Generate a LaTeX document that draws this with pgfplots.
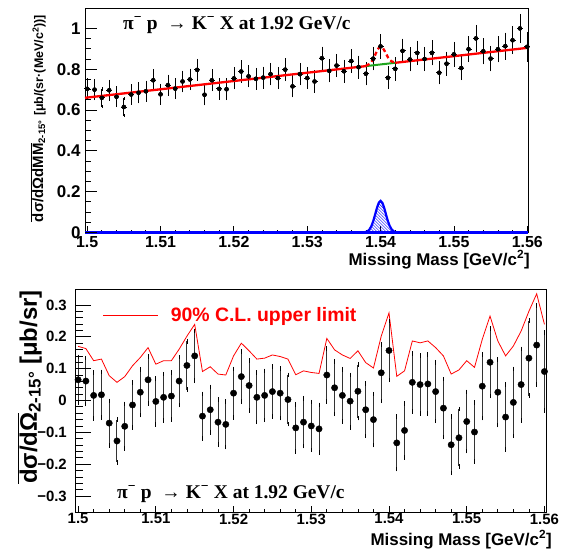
\documentclass[border=0pt]{standalone}
\usepackage{fontspec}
\setmainfont{Liberation Sans}
\newfontfamily\serifbf{Liberation Serif}
\usepackage{pgfplots}
\usepackage{pgfplotstable}
\pgfplotsset{compat=1.18}
\usetikzlibrary{patterns}
\definecolor{fitgreen}{RGB}{30,165,30}

\pgfplotstableread{
x y e
1.500 0.704 0.043
1.501 0.700 0.043
1.502 0.660 0.043
1.503 0.697 0.043
1.504 0.665 0.043
1.505 0.615 0.042
1.506 0.676 0.043
1.507 0.685 0.044
1.508 0.692 0.044
1.509 0.746 0.045
1.510 0.677 0.043
1.511 0.722 0.044
1.512 0.705 0.044
1.513 0.740 0.045
1.514 0.750 0.045
1.515 0.797 0.046
1.516 0.675 0.044
1.517 0.746 0.045
1.518 0.704 0.045
1.519 0.702 0.045
1.520 0.755 0.046
1.521 0.789 0.047
1.522 0.765 0.046
1.523 0.753 0.046
1.524 0.759 0.046
1.525 0.776 0.047
1.526 0.757 0.047
1.527 0.798 0.048
1.528 0.716 0.046
1.529 0.776 0.047
1.530 0.757 0.047
1.531 0.740 0.047
1.532 0.854 0.049
1.533 0.792 0.048
1.534 0.818 0.049
1.535 0.790 0.048
1.536 0.840 0.050
1.537 0.810 0.049
1.538 0.778 0.049
1.539 0.852 0.050
1.540 0.912 0.052
1.541 0.758 0.048
1.542 0.802 0.050
1.543 0.890 0.052
1.544 0.848 0.051
1.545 0.880 0.052
1.546 0.850 0.052
1.547 0.880 0.053
1.548 0.783 0.050
1.549 0.827 0.052
1.550 0.873 0.053
1.551 0.806 0.052
1.552 0.898 0.055
1.553 0.951 0.058
1.554 0.888 0.056
1.555 0.852 0.055
1.556 0.898 0.057
1.557 0.913 0.058
1.558 0.942 0.060
1.559 1.000 0.064
1.560 0.910 0.065
}\topdata

\pgfplotstableread{
x y e u
1.500 0.065 0.072 0.170
1.501 0.061 0.072 0.163
1.502 0.016 0.072 0.125
1.503 0.018 0.072 0.130
1.504 -0.071 0.070 0.078
1.505 -0.127 0.067 0.057
1.506 -0.081 0.070 0.075
1.507 -0.014 0.071 0.109
1.508 0.026 0.072 0.135
1.509 0.065 0.074 0.166
1.510 -0.003 0.072 0.114
1.511 0.010 0.073 0.125
1.512 0.014 0.073 0.125
1.513 0.061 0.075 0.161
1.514 0.110 0.076 0.202
1.515 0.140 0.078 0.239
1.516 -0.049 0.070 0.091
1.517 -0.029 0.072 0.106
1.518 -0.068 0.071 0.083
1.519 -0.075 0.071 0.080
1.520 0.023 0.076 0.140
1.521 0.075 0.079 0.180
1.522 0.047 0.078 0.156
1.523 0.010 0.077 0.130
1.524 0.016 0.077 0.133
1.525 0.028 0.078 0.143
1.526 0.023 0.078 0.138
1.527 0.003 0.077 0.130
1.528 -0.086 0.074 0.081
1.529 -0.068 0.075 0.093
1.530 -0.080 0.075 0.088
1.531 -0.089 0.075 0.085
1.532 0.080 0.083 0.195
1.533 0.040 0.082 0.159
1.534 0.016 0.082 0.143
1.535 -0.002 0.082 0.132
1.536 0.029 0.084 0.156
1.537 -0.029 0.082 0.119
1.538 -0.060 0.080 0.102
1.539 0.087 0.088 0.202
1.540 0.157 0.092 0.275
1.541 -0.133 0.082 0.076
1.542 -0.094 0.085 0.093
1.543 0.057 0.091 0.187
1.544 0.050 0.091 0.181
1.545 0.052 0.092 0.187
1.546 0.028 0.092 0.166
1.547 -0.024 0.091 0.140
1.548 -0.139 0.088 0.083
1.549 -0.117 0.090 0.096
1.550 -0.066 0.093 0.125
1.551 -0.099 0.093 0.104
1.552 0.045 0.100 0.192
1.553 0.120 0.106 0.265
1.554 0.026 0.103 0.187
1.555 -0.052 0.102 0.140
1.556 -0.006 0.105 0.171
1.557 0.050 0.112 0.218
1.558 0.133 0.118 0.280
1.559 0.174 0.124 0.335
1.560 0.091 0.122 0.239
}\botdata

\begin{document}
\begin{tikzpicture}
\useasboundingbox (0,0) rectangle (567bp,-554bp);
% ================= TOP PANEL =================
\begin{axis}[
  at={(85bp,-232.5bp)}, anchor=south west,
  width=443bp, height=224.5bp, scale only axis,
  xmin=1.4997, xmax=1.5601, ymin=0, ymax=1.1,
  clip=false,
  tick align=inside, tick pos=left,
  axis line style={black, line width=0.9pt},
  tick style={black, line width=0.8pt},
  major tick length=6.5bp, minor tick length=3bp,
  xtick={1.5,1.51,1.52,1.53,1.54,1.55,1.56},
  xticklabels={1.5,1.51,1.52,1.53,1.54,1.55,1.56},
  minor x tick num=4,
  ytick=\empty,
  /pgf/number format/assume math mode=true,
  xticklabel style={font=\bfseries\fontsize{16}{16}\selectfont, inner sep=0pt, anchor=north, yshift=-3.5bp},
  xlabel={Missing Mass [GeV/c\textsuperscript{2}]},
  xlabel style={at={(axis description cs:1,0)}, anchor=base east, xshift=2bp, yshift=-32.5bp, font=\bfseries\fontsize{17}{17}\selectfont, inner sep=0pt},
  ylabel={$\overline{\hbox{dσ/dΩdMM}}_{\hbox{\fontsize{9.5}{10}\selectfont 2-15°}}$ {\fontsize{12.5}{13}\selectfont [μb/(sr·(MeV/c\textsuperscript{2}))]}},
  ylabel style={at={(axis description cs:-0.0948,0.969)}, anchor=base east, rotate=0, font=\bfseries\fontsize{15}{16}\selectfont, inner sep=0pt},
]
% blue signal shape
\addplot[blue, line width=2.5bp] coordinates {(1.4997,0) (1.5601,0)};
\addplot[blue, line width=2.2bp, pattern=north west lines, pattern color=blue] coordinates {
(1.5375,0) (1.538,0.0026) (1.53825,0.0068) (1.5385,0.0156) (1.53875,0.0315) (1.539,0.0558) (1.53925,0.0873) (1.5395,0.120) (1.53975,0.1454) (1.540,0.155) (1.54025,0.1454) (1.5405,0.120) (1.54075,0.0873) (1.541,0.0558) (1.54125,0.0315) (1.5415,0.0156) (1.54175,0.0068) (1.542,0.0026) (1.5425,0)} \closedcycle;
% data
\addplot[only marks, mark=none, error bars/.cd, y dir=both, y explicit,
  error mark options={black, mark size=1.6pt, line width=0.7pt},
  error bar style={black, line width=0.75pt}] table[x=x, y=y, y error=e] {\topdata};
\addplot[only marks, mark=none, error bars/.cd, x dir=both, x fixed=0.0004,
  error mark=none, error bar style={black, line width=0.9pt}] table[x=x, y=y] {\topdata};
% fit: background (green) and total (red)
\addplot[fitgreen, line width=2bp] coordinates {(1.538,0.8153) (1.542,0.8316)};
\addplot[red, line width=2.3bp] coordinates {(1.4997,0.660) (1.538,0.8153)};
\addplot[red, line width=2.3bp] coordinates {(1.542,0.8316) (1.5601,0.905)};
\addplot[red, line width=2.3bp, dash pattern=on 4bp off 3bp, smooth] coordinates {
(1.538,0.8168) (1.5385,0.8262) (1.53875,0.8361) (1.539,0.8507) (1.53925,0.8694) (1.5395,0.8888) (1.53975,0.9041) (1.540,0.9105) (1.54025,0.9061) (1.5405,0.8929) (1.54075,0.8755) (1.541,0.8588) (1.54125,0.8463) (1.5415,0.8384) (1.542,0.8331)};
\node[anchor=base west, inner sep=0pt, font=\serifbf\bfseries\fontsize{19.5}{20}\selectfont] at (axis description cs:0.0858,0.906) {π\textsuperscript{−} p \ → K\textsuperscript{−} X at 1.92 GeV/c};
\end{axis}
% top y ticks overlay
\begin{axis}[
  at={(85bp,-232.5bp)}, anchor=south west,
  width=443bp, height=224.5bp, scale only axis,
  xmin=1.4997, xmax=1.5601, ymin=0, ymax=1.1,
  axis line style={draw=none}, xtick=\empty,
  tick align=inside, tick pos=left,
  tick style={black, line width=0.8pt},
  major tick length=11.7bp, minor tick length=5.7bp,
  ytick={0,0.2,0.4,0.6,0.8,1},
  yticklabels={0,0.2,0.4,0.6,0.8,1},
  minor y tick num=3,
  yticklabel style={font=\bfseries\fontsize{17}{17}\selectfont, inner sep=0pt, anchor=east, xshift=-4.3bp},
]
\end{axis}
% ================= BOTTOM PANEL =================
\begin{axis}[
  at={(75bp,-512bp)}, anchor=south west,
  width=471bp, height=223bp, scale only axis,
  xmin=1.4996, xmax=1.5602, ymin=-0.35, ymax=0.35,
  tick align=inside, tick pos=left,
  axis line style={black, line width=0.9pt},
  tick style={black, line width=0.8pt},
  major tick length=6.3bp, minor tick length=3bp,
  xtick={1.5,1.51,1.52,1.53,1.54,1.55,1.56},
  xticklabels={1.5,1.51,1.52,1.53,1.54,1.55,1.56},
  minor x tick num=4,
  ytick=\empty,
  xticklabel style={font=\bfseries\fontsize{15}{15}\selectfont, inner sep=0pt, anchor=north, yshift=-1.5bp},
  xlabel={Missing Mass [GeV/c\textsuperscript{2}]},
  xlabel style={at={(axis description cs:1,0)}, anchor=base east, xshift=6bp, yshift=-33bp, font=\bfseries\fontsize{17}{17}\selectfont, inner sep=0pt},
  ylabel={$\overline{\hbox{dσ/dΩ}}_{\hbox{\fontsize{17}{17}\selectfont 2-15°}}$ [μb/sr]},
  ylabel style={at={(axis description cs:-0.081,0.995)}, anchor=base east, font=\bfseries\fontsize{24}{24}\selectfont, inner sep=0pt},
  legend style={at={(axis description cs:0.0594,0.883)}, anchor=west, draw=none, fill=none, inner sep=0pt, outer sep=0pt, nodes={inner sep=0pt}, font=\bfseries\fontsize{19.5}{20}\selectfont, text=red},
  legend image code/.code={\draw[#1] (0bp,0bp) -- (55bp,0bp); \path (67bp,0bp);},
]
\addplot[red, line width=0.8pt] table[x=x, y=u] {\botdata};
\addlegendentry{90\% C.L. upper limit}
\addplot[forget plot, only marks, mark=*, mark size=3.2pt, black,
  error bars/.cd, y dir=both, y explicit,
  error mark options={black, mark size=2.3pt, line width=0.8pt},
  error bar style={black!80, line width=1pt}] table[x=x, y=y, y error=e] {\botdata};
\node[anchor=base west, inner sep=0pt, font=\serifbf\bfseries\fontsize{19.5}{20}\selectfont] at (axis description cs:0.0892,0.0628) {π\textsuperscript{−} p \ → K\textsuperscript{−} X at 1.92 GeV/c};
\end{axis}
% bottom y ticks overlay
\begin{axis}[
  at={(75bp,-512bp)}, anchor=south west,
  width=471bp, height=223bp, scale only axis,
  xmin=1.4996, xmax=1.5602, ymin=-0.35, ymax=0.35,
  axis line style={draw=none}, xtick=\empty,
  tick align=inside, tick pos=left,
  tick style={black, line width=0.8pt},
  major tick length=15.7bp, minor tick length=8bp,
  ytick={-0.3,-0.2,-0.1,0,0.1,0.2,0.3},
  yticklabels={−0.3,−0.2,−0.1,0,0.1,0.2,0.3},
  minor y tick num=4,
  yticklabel style={font=\bfseries\fontsize{15}{15}\selectfont, inner sep=0pt, anchor=east, xshift=-8bp},
]
\end{axis}
\end{tikzpicture}
\end{document}
